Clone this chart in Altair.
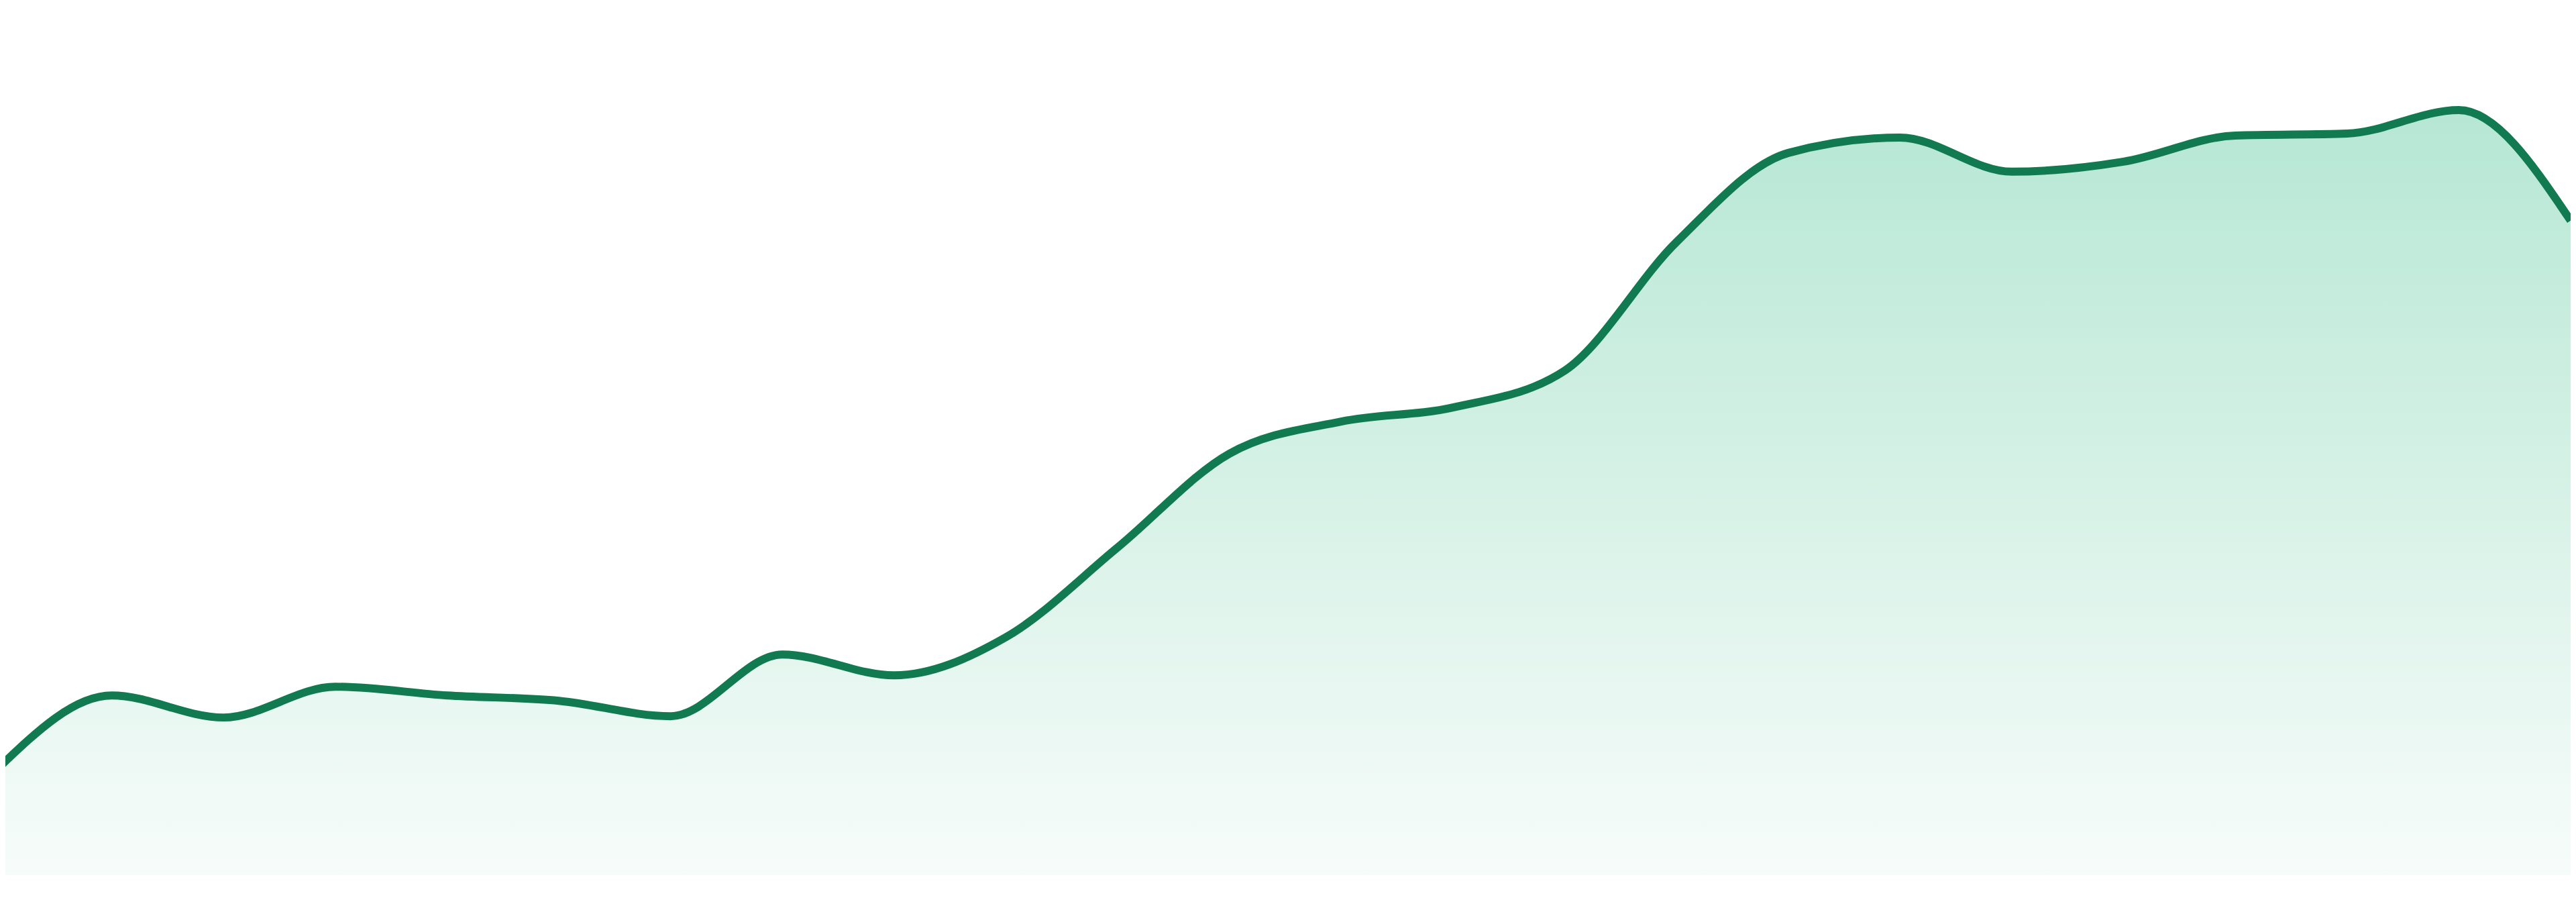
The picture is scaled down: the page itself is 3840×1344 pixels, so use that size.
import altair as alt
import pandas as pd

# data (index along x, value in plot units above the baseline)
index = list(range(24))
values = [162, 268, 235, 281, 268, 260, 237, 329, 298, 355, 489, 629,
          677, 698, 753, 945, 1078, 1101, 1050, 1065, 1104, 1107, 1142, 977]

df = pd.DataFrame({"i": index, "v": values})

x = alt.X("i:Q", axis=None,
          scale=alt.Scale(domain=[0, 23], range=[-8, 3832], nice=False, zero=False))
y = alt.Y("v:Q", axis=None, scale=alt.Scale(domain=[0, 1297], nice=False))

area = alt.Chart(df).mark_area(
    interpolate="monotone",
    clip=True,
    color=alt.Gradient(
        gradient="linear",
        stops=[alt.GradientStop(color="#b6e7d4", offset=0),
               alt.GradientStop(color="#f7fcfa", offset=1)],
        x1=0, x2=0, y1=0, y2=1,
    ),
).encode(x=x, y=y)

line = alt.Chart(df).mark_line(
    interpolate="monotone", clip=True, color="#127a51", strokeWidth=12
).encode(x=x, y=y)

chart = alt.layer(area, line).properties(
    width=3832, height=1297, padding=0,
    autosize=alt.AutoSizeParams(type="none"),
).configure_view(stroke=None)

chart.save("out.html", embed_options={"renderer": "svg", "actions": False})
